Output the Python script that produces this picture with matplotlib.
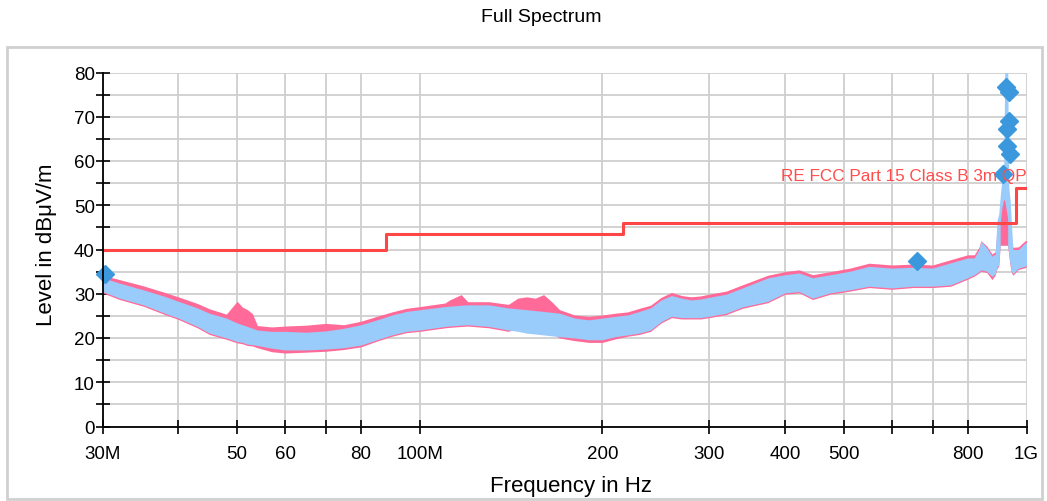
import matplotlib
matplotlib.use("Agg")
import matplotlib.pyplot as plt
from matplotlib.patches import Rectangle
import numpy as np

plt.rcParams['font.family'] = ['Liberation Sans', 'DejaVu Sans']

# Spectrum envelope (MHz, dBuV/m)
freq_mhz = [30, 32, 35, 38, 40, 43, 45, 48, 50, 51, 52, 53, 54, 57, 60, 65, 70, 75, 80, 85,
            90, 95, 100, 110, 112, 117, 120, 130, 140, 145, 150, 155, 160, 165, 170, 180,
            190, 200, 210, 220, 230, 240, 250, 260, 270, 280, 290, 300, 320, 340, 375,
            400, 422, 444, 475, 512, 550, 600, 650, 700, 750, 800, 820, 835, 841, 860,
            877, 888, 894, 900, 905, 911, 917, 921, 931, 935, 940, 945, 950, 970, 995, 1000]
avg_lo = [30.5, 29.0, 27.5, 25.6, 24.5, 22.6, 21.1, 20.0, 19.2, 19.0, 18.6, 18.5, 18.3, 17.7,
          17.3, 17.3, 17.5, 17.8, 18.4, 19.6, 20.7, 21.5, 21.8, 22.6, 22.7, 22.9, 23.0, 22.6,
          21.8, 21.5, 21.1, 20.9, 20.7, 20.5, 20.3, 20.0, 19.6, 19.6, 20.3, 20.7, 21.1, 21.8,
          23.7, 24.9, 24.6, 24.6, 24.6, 24.9, 25.6, 27.0, 28.3, 30.2, 30.5, 29.0, 30.2, 30.9,
          31.7, 31.3, 31.7, 31.7, 32.0, 33.6, 34.3, 35.0, 35.4, 35.1,
          33.9, 34.5, 36.0, 36.5, 41.0, 41.0, 41.0, 41.0, 41.0, 39.0, 36.5, 35.0, 34.5, 35.8,
          36.2, 36.5]
avg_hi = [33.6, 32.4, 30.9, 29.4, 28.3, 26.8, 25.6, 24.5, 23.4, 23.0, 22.6, 22.2, 21.8, 21.5,
          21.5, 21.3, 21.6, 22.2, 23.0, 24.1, 25.2, 26.0, 26.4, 27.1, 27.2, 27.4, 27.5, 27.5,
          26.8, 26.6, 26.4, 26.2, 26.0, 25.8, 25.6, 24.5, 24.1, 24.5, 24.9, 25.2, 26.0, 26.8,
          28.6, 29.6, 29.0, 28.6, 28.8, 29.2, 29.9, 31.3, 33.6, 34.3, 34.7, 33.6, 34.3, 35.1,
          36.2, 35.8, 36.0, 35.8, 37.0, 38.1, 38.1, 40.0, 41.9, 40.4,
          38.5, 39.0, 46.5, 48.0, 52.0, 56.0, 58.0, 82.0, 82.0, 54.0, 51.0, 45.0, 40.0, 40.0,
          41.5, 41.5]
peak_lo = [30.2, 28.7, 27.2, 25.3, 24.2, 22.3, 20.8, 19.7, 18.9, 18.7, 18.3, 18.2, 17.8, 16.9,
           16.6, 16.8, 17.0, 17.4, 18.0, 19.3, 20.4, 21.2, 21.5, 22.3, 22.4, 22.6, 22.7, 22.3,
           21.5, 22.5, 22.5, 22.2, 22.0, 21.0, 20.0, 19.4, 19.0, 19.0, 19.8, 20.4, 20.8, 21.5,
           23.4, 24.6, 24.3, 24.3, 24.3, 24.6, 25.3, 26.7, 28.0, 29.9, 30.2, 28.7, 29.9, 30.6,
           31.4, 31.0, 31.4, 31.4, 31.7, 33.3, 34.0, 34.7, 35.1, 34.8,
           33.2, 34.2, 35.7, 36.2, 41.0, 41.0, 41.0, 41.0, 41.0, 38.7, 36.2, 34.7, 34.2, 35.5,
           35.9, 36.2]
peak_hi = [34.2, 33.2, 31.8, 30.3, 29.3, 27.8, 26.6, 25.4, 28.3, 27.0, 26.4, 25.5, 22.8, 22.5,
           22.7, 22.9, 23.3, 23.0, 23.8, 24.9, 25.9, 26.7, 27.1, 27.9, 28.6, 29.8, 28.2, 28.2,
           27.6, 29.0, 29.3, 29.0, 29.8, 28.2, 26.4, 25.2, 24.9, 25.2, 25.6, 25.9, 26.7, 27.4,
           29.2, 30.3, 29.6, 29.3, 29.5, 29.9, 30.6, 32.0, 34.2, 35.0, 35.4, 34.3, 35.0, 35.8,
           36.9, 36.5, 36.7, 36.5, 37.7, 38.8, 38.8, 40.5, 42.0, 40.8,
           39.0, 39.5, 44.0, 45.0, 46.0, 49.5, 51.3, 51.0, 47.0, 43.0, 42.0, 41.0, 40.5, 40.6,
           42.0, 42.0]

# FCC Part 15 Class B 3 m QP limit
limit_mhz = [30, 88, 88, 216, 216, 960, 960, 1000]
limit_db = [40, 40, 43.5, 43.5, 46, 46, 54, 54]

# Final measurement points
mark_mhz = [30.3, 659, 926, 934, 934, 928, 928, 940, 916]
mark_db = [34.5, 37.4, 76.8, 75.5, 69.1, 67.2, 63.4, 61.5, 57.0]

xtick_mhz = [30, 40, 50, 60, 70, 80, 100, 200, 300, 400, 500, 600, 700, 800, 1000]
xtick_lbl = ['30M', '', '50', '60', '', '80', '100M', '200', '300', '400', '500',
             '', '', '800', '1G']
ytick_major = [0, 10, 20, 30, 40, 50, 60, 70, 80]
ytick_minor = [5, 15, 25, 35, 45, 55, 65, 75]

W, H = 1047, 502
fig = plt.figure(figsize=(W / 100, H / 100), dpi=100)
ax = fig.add_axes([102.5 / W, 1 - 427.5 / H, 924 / W, 354 / H])

f = np.array(freq_mhz) * 1e6
pl, ph = np.array(peak_lo), np.array(peak_hi)
al, ah = np.array(avg_lo), np.array(avg_hi)
spike = (f >= 905e6) & (f <= 931e6)

pink = '#ff6a98'
blue = '#99cbfb'
ax.fill_between(f, pl, ph, color=pink, lw=0, zorder=2)
ax.fill_between(f, al, ah, color=blue, lw=0, zorder=3)
ax.fill_between(f, pl, ph, where=spike, color=pink, lw=0, zorder=4)

ax.plot(np.array(limit_mhz) * 1e6, limit_db, color='#ff4646', lw=2.2, zorder=5)
ax.plot(np.array(mark_mhz) * 1e6, mark_db, ls='none', marker='D', ms=9,
        color='#3c98dc', mec='#3c98dc', zorder=6, clip_on=False)
ax.text(1e9, 56.7, 'RE FCC Part 15 Class B 3m QP', color='#ff4d4d', fontsize=12.3,
        ha='right', va='center', zorder=7)

ax.set_xscale('log')
ax.set_xlim(30e6, 1e9)
ax.set_ylim(0, 80)
ax.set_xticks(np.array(xtick_mhz) * 1e6)
ax.set_xticklabels(xtick_lbl)
ax.xaxis.set_minor_locator(matplotlib.ticker.NullLocator())
ax.set_yticks(ytick_major)
ax.set_yticks(ytick_minor, minor=True)
ax.tick_params(axis='both', which='both', direction='inout', length=10, width=1.2,
               labelsize=13.5, colors='black')
ax.tick_params(axis='y', pad=0.5)
ax.tick_params(axis='x', pad=8)
ax.grid(True, which='both', color='#cfcfcf', lw=1.3)
ax.set_axisbelow(True)
for s in ('top', 'right'):
    ax.spines[s].set_visible(False)
for s in ('left', 'bottom'):
    ax.spines[s].set_linewidth(1.3)
    ax.spines[s].set_zorder(8)

fig.text(541 / W, 1 - 18 / H, 'Full Spectrum', fontsize=14, ha='center', va='center')
fig.text(47 / W, 1 - 245 / H, 'Level in dBμV/m', fontsize=16, rotation=90,
         ha='center', va='center')
fig.text(571 / W, 1 - 487 / H, 'Frequency in Hz', fontsize=16, ha='center', va='center')

fig.patches.append(Rectangle((7 / W, 2 / H), 1035 / W, 452 / H, transform=fig.transFigure,
                             fill=False, edgecolor='#d0d0d0', lw=2))

fig.savefig('out.png', dpi=100)
